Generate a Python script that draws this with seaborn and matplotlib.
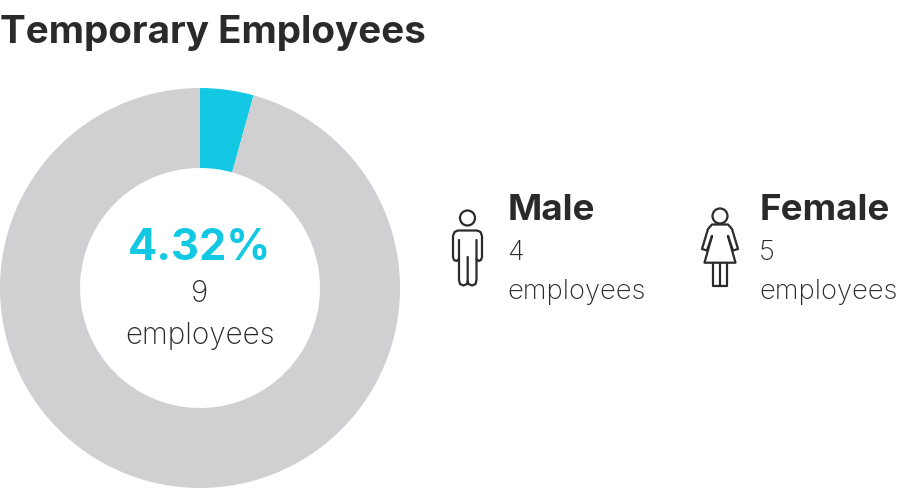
import matplotlib
matplotlib.use("Agg")
import matplotlib.pyplot as plt
from matplotlib.path import Path
from matplotlib.patches import PathPatch, Circle
import seaborn as sns

sns.set_theme(style="white")
plt.rcParams['font.family'] = ['Inter', 'DejaVu Sans']

title = "Temporary Employees"
share_labels = ["Temporary", "Other"]
share_values = [4.32, 95.68]
share_colors = ["#12c8e3", "#d0d0d2"]
center_pct = "4.32%"
total_count = "9"
unit = "employees"
genders = ["Male", "Female"]
gender_counts = [4, 5]
INK = "#2a2a2a"

W, H = 900, 496
fig = plt.figure(figsize=(W / 100, H / 100), dpi=100, facecolor="white")

# donut
pie_ax = fig.add_axes([0, (H - 488) / H, 400 / W, 400 / H])
pie_ax.pie(share_values, colors=share_colors, startangle=90, counterclock=False,
           radius=1, wedgeprops=dict(width=0.4, linewidth=0))
pie_ax.set_xlim(-1, 1); pie_ax.set_ylim(-1, 1)
pie_ax.set_aspect("equal")
pie_ax.axis("off")

# overlay in pixel space for text and pictograms
ax = fig.add_axes([0, 0, 1, 1], facecolor="none")
ax.set_xlim(0, W); ax.set_ylim(H, 0)
ax.axis("off")

ax.text(0, 43, title, fontsize=27.8, fontweight="bold", color=INK, ha="left", va="baseline")
ax.text(200, 260, center_pct, fontsize=31.2, fontweight="bold", color=share_colors[0], ha="center", va="baseline")
ax.text(200, 302, total_count, fontsize=21.4, fontweight="light", color=INK, ha="center", va="baseline")
ax.text(200, 344, unit, fontsize=21.4, fontweight="light", color=INK, ha="center", va="baseline")

for x, name, n in zip([508, 760], genders, gender_counts):
    ax.text(x, 220, name, fontsize=26.5, fontweight="bold", color=INK, ha="left", va="baseline")
    ax.text(x - 1, 260, str(n), fontsize=19.7, fontweight="light", color=INK, ha="left", va="baseline")
    ax.text(x - 1, 299, unit, fontsize=19.7, fontweight="light", color=INK, ha="left", va="baseline")


def stroke(verts):
    codes = [Path.MOVETO] + [Path.LINETO] * (len(verts) - 1)
    ax.add_patch(PathPatch(Path(verts, codes), fill=False, ec=INK, lw=1.6,
                           joinstyle="round", capstyle="round"))


# male pictogram
ax.add_patch(Circle((467.5, 218), 7.5, fill=False, ec=INK, lw=1.6))
stroke([(459, 240), (459, 280), (460, 284), (463.5, 285.5), (467, 284), (467.7, 281), (467.7, 257)])
stroke([(476.5, 240), (476.5, 280), (475.5, 284), (472, 285.5), (468.5, 284), (467.7, 281)])
stroke([(459, 259), (456.5, 261), (454, 260), (453, 257), (453, 236), (454.5, 232), (458, 230.5),
        (477, 230.5), (480.5, 232), (482, 236), (482, 257), (481, 260), (478.5, 261), (476.5, 259)])

# female pictogram
ax.add_patch(Circle((720, 216), 7.5, fill=False, ec=INK, lw=1.6))
stroke([(712, 236), (707, 250.5), (702, 249), (708, 229), (712, 224.5), (728, 224.5),
        (732, 229), (738, 249), (733, 250.5), (728, 236)])
stroke([(712, 236), (704.5, 262.7), (735.5, 262.7), (728, 236)])
stroke([(712.7, 262.7), (712.7, 286), (727.3, 286), (727.3, 262.7)])
stroke([(720, 262.7), (720, 286)])

fig.savefig("out.png", dpi=100, facecolor="white")
